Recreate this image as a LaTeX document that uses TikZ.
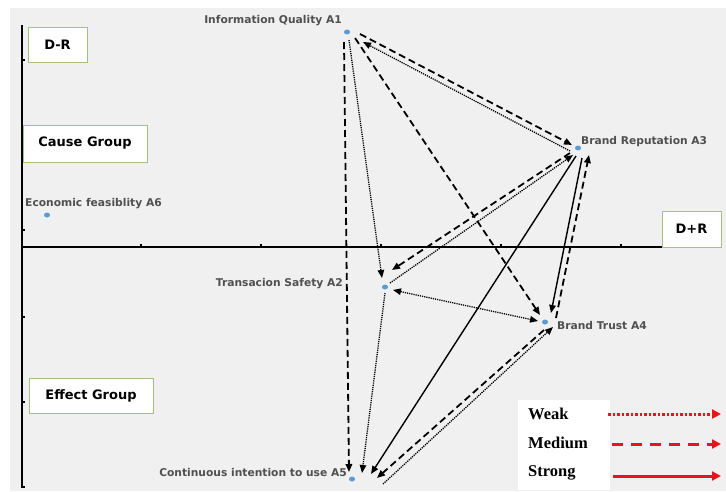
\documentclass[tikz,border=0pt]{standalone}
\usepackage{fontspec}
\setmainfont{DejaVu Sans}
\newfontfamily\legendfont{Liberation Serif}
\usetikzlibrary{positioning, arrows.meta, calc, shapes.geometric}

\definecolor{bggray}{HTML}{F0F0F0}
\definecolor{dotblue}{HTML}{5B9BD5}
\definecolor{boxgreen}{HTML}{A3C282}
\definecolor{lblgray}{HTML}{505050}
\definecolor{legred}{HTML}{E8141B}

\begin{document}
\begin{tikzpicture}[
    x=1pt, y=-1pt,
    >={Triangle[length=8pt, width=6.5pt]},
    axis/.style={black, line width=2pt},
    tickmark/.style={black, line width=1.5pt},
    critdot/.style={ellipse, fill=dotblue, inner sep=0pt, minimum width=6pt, minimum height=5pt},
    lbl/.style={font=\fontsize{10.7}{12}\selectfont\bfseries, text=lblgray, inner sep=0pt},
    groupbox/.style={draw=boxgreen, fill=white, line width=0.8pt, inner sep=0pt,
        font=\fontsize{13}{15}\selectfont\bfseries},
    weak/.style={black, line width=1.3pt, dash pattern=on 1.2pt off 1pt, ->},
    medium/.style={black, line width=1.8pt, dash pattern=on 7pt off 4pt, ->},
    strong/.style={black, line width=1.4pt, ->},
    legtext/.style={font=\legendfont\fontsize{16.5}{18}\selectfont\bfseries, anchor=west, inner sep=0pt},
    legarrow/.style={legred, line width=3pt, >={Triangle[length=9pt, width=9pt]}, ->}
]

% 背景
\useasboundingbox (0,0) rectangle (726,491);
\fill[bggray] (10,8) rectangle (726,491);

% 坐标轴
\draw[axis] (22,25) -- (22,488);
\draw[axis] (22,247) -- (717,247);
\foreach \x in {141,261,381,501,621} \draw[tickmark] (\x,247) -- (\x,244);
\foreach \y in {60,145,230,317,402,487} \draw[tickmark] (22,\y) -- (25,\y);

% 分组框
\node[groupbox, minimum width=59pt, minimum height=35pt] (dr) at (57.5,44.5) {D-R};
\node[groupbox, minimum width=124pt, minimum height=37pt] (cause) at (85,143.5) {Cause Group};
\node[groupbox, minimum width=124pt, minimum height=35pt] (effect) at (91,395.5) {Effect Group};
\node[groupbox, minimum width=59pt, minimum height=36pt] (dpr) at (691.5,229) {D+R};

% 因素点
\node[critdot] (a1) at (347,32) {};
\node[critdot] (a2) at (385,287) {};
\node[critdot] (a3) at (578,148) {};
\node[critdot] (a4) at (545,322) {};
\node[critdot] (a5) at (352,479) {};
\node[critdot] (a6) at (47,215) {};

\node[lbl, anchor=east] (l1) at (342,21) {Information Quality A1};
\node[lbl, anchor=west] (l3) at (581,142) {Brand Reputation A3};
\node[lbl, anchor=east] (l2) at (343,284) {Transacion Safety A2};
\node[lbl, anchor=west] (l4) at (557,326) {Brand Trust A4};
\node[lbl, anchor=east] (l5) at (347,473) {Continuous intention to use A5};
\node[lbl, anchor=west] (l6) at (25,204) {Economic feasiblity A6};

% 影响关系
\draw[medium] ([shift={(-3,10)}]a1.center) -- ([shift={(-3,-7)}]a5.center);
\draw[weak] ([shift={(2,8)}]a1.center) -- ([shift={(-3,-9)}]a2.center);
\draw[medium] ([shift={(8,6)}]a1.center) -- ([shift={(-5,-7)}]a4.center);
\draw[medium] ([shift={(13,2)}]a1.center) -- ([shift={(-6,-3)}]a3.center);
\draw[weak] ([shift={(-8,3)}]a3.center) -- ([shift={(16,10)}]a1.center);
\draw[medium] ([shift={(-8,5)}]a3.center) -- ([shift={(7,-17)}]a2.center);
\draw[weak] ([shift={(5,-4)}]a2.center) -- ([shift={(-5,7)}]a3.center);
\draw[strong] ([shift={(-2,8)}]a3.center) -- ([shift={(19,-5)}]a5.center);
\draw[strong] ([shift={(4,10)}]a3.center) -- ([shift={(6,-9)}]a4.center);
\draw[medium] ([shift={(11,-4)}]a4.center) -- ([shift={(11,7)}]a3.center);
\draw[weak, <->] ([shift={(8,3)}]a2.center) -- ([shift={(-7,-1)}]a4.center);
\draw[weak] ([shift={(0,6)}]a2.center) -- ([shift={(10,-6)}]a5.center);
\draw[medium] ([shift={(-1,8)}]a4.center) -- ([shift={(25,-1)}]a5.center);
\draw[weak] ([shift={(31,5)}]a5.center) -- ([shift={(8,5)}]a4.center);

% 图例
\fill[white] (518,400) rectangle (610,490);
\node[legtext] (weak) at (528,414) {Weak};
\node[legtext] (medium) at (528,443) {Medium};
\node[legtext] (strong) at (528,473) {Strong};
\coordinate (weakend) at (721,414);
\coordinate (mediumend) at (721,444);
\coordinate (strongend) at (721,476);
\draw[legarrow, dash pattern=on 2.5pt off 2pt] (608,414) -- (weakend);
\draw[legarrow, dash pattern=on 11pt off 8pt] (612,444) -- (mediumend);
\draw[legarrow] (613,476) -- (strongend);

\end{tikzpicture}
\end{document}
